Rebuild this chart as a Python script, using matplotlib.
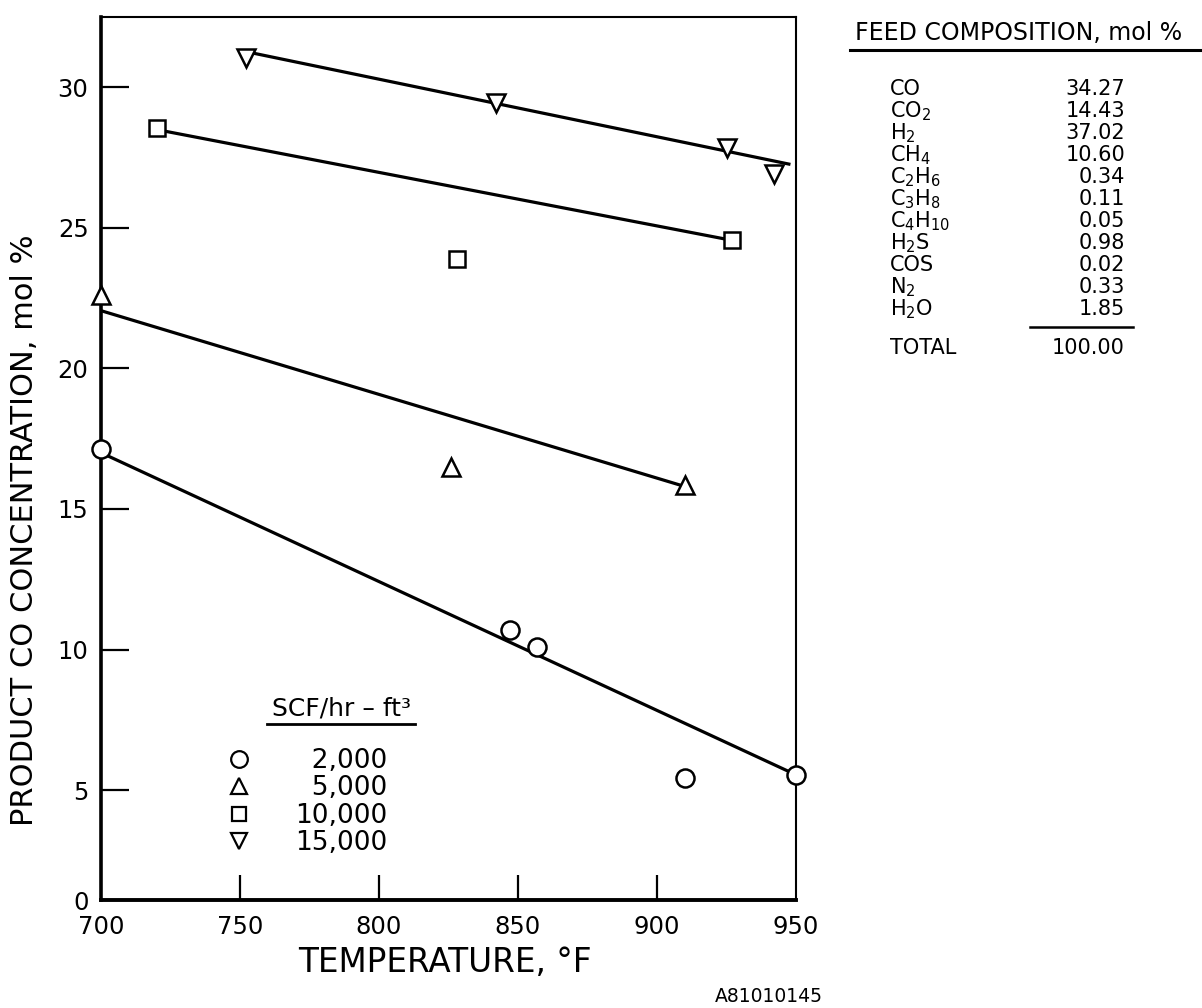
import numpy as np
import matplotlib.pyplot as plt
from matplotlib.lines import Line2D

plt.rcParams["font.family"] = ["DejaVu Sans"]
plt.rcParams["mathtext.fontset"] = "dejavusans"

# ── data ────────────────────────────────────────────────────────────────
# space velocity 2,000 SCF/hr-ft3
temp_2000 = [700, 847, 857, 910, 950]
co_2000 = [17.15, 10.7, 10.1, 5.45, 5.55]
fit_2000_t = [700, 950]
fit_2000_co = [17.0, 5.55]

# 5,000
temp_5000 = [700, 826, 910]
co_5000 = [22.6, 16.5, 15.85]
fit_5000_t = [700, 910]
fit_5000_co = [22.05, 15.8]

# 10,000
temp_10000 = [720, 828, 927]
co_10000 = [28.55, 23.9, 24.55]
fit_10000_t = [722, 927]
fit_10000_co = [28.45, 24.55]

# 15,000
temp_15000 = [752, 842, 925, 942]
co_15000 = [31.05, 29.45, 27.85, 26.9]
fit_15000_t = [755, 948]
fit_15000_co = [31.2, 27.25]

legend_labels = ["\u20072,000", "\u20075,000", "10,000", "15,000"]

x_ticks = [700, 750, 800, 850, 900, 950]
y_ticks = [0, 5, 10, 15, 20, 25, 30]

feed_species = ["CO", "CO$_2$", "H$_2$", "CH$_4$", "C$_2$H$_6$", "C$_3$H$_8$",
                "C$_4$H$_{10}$", "H$_2$S", "COS", "N$_2$", "H$_2$O"]
feed_mol = ["34.27", "14.43", "37.02", "10.60", "0.34", "0.11",
            "0.05", "0.98", "0.02", "0.33", "1.85"]
feed_total = "100.00"


# the drawn axis squeezes the 0-5 interval
def _fwd(v):
    v = np.asarray(v, dtype=float)
    return np.where(v < 5, v * 0.78, v - 5 + 3.9)


def _inv(t):
    t = np.asarray(t, dtype=float)
    return np.where(t < 3.9, t / 0.78, t + 5 - 3.9)


W, H = 1202, 1008
fig = plt.figure(figsize=(W / 100, H / 100), dpi=100)
fig.patch.set_facecolor("white")


def fx(px):
    return px / W


def fy(py):
    return 1 - py / H


ax = fig.add_axes([fx(101), fy(900), fx(796) - fx(101), fy(17) - fy(900)])
ax.set_yscale("function", functions=(_fwd, _inv))
ax.set_xlim(700, 950)
ax.set_ylim(0, 32.49)

line_kw = dict(color="black", lw=2.3, solid_capstyle="butt", zorder=2)
mk_kw = dict(ls="none", mfc="white", mec="black", mew=1.8, clip_on=False, zorder=3)

ax.plot(fit_2000_t, fit_2000_co, **line_kw)
ax.plot(fit_5000_t, fit_5000_co, **line_kw)
ax.plot(fit_10000_t, fit_10000_co, **line_kw)
ax.plot(fit_15000_t, fit_15000_co, **line_kw)

ax.plot(temp_2000, co_2000, marker="o", ms=13, **mk_kw)
ax.plot(temp_5000, co_5000, marker="^", ms=13, **mk_kw)
ax.plot(temp_10000, co_10000, marker="s", ms=11, **mk_kw)
ax.plot(temp_15000, co_15000, marker="v", ms=13, **mk_kw)

# spines: heavy left/bottom, light top/right
ax.spines["left"].set_linewidth(2.6)
ax.spines["bottom"].set_linewidth(2.8)
ax.spines["top"].set_linewidth(1.5)
ax.spines["right"].set_linewidth(1.5)

ax.set_xticks(x_ticks, [str(t) for t in x_ticks])
ax.set_yticks(y_ticks, [str(t) for t in y_ticks])
ax.minorticks_off()
ax.tick_params(axis="both", direction="in", top=False, right=False, colors="black")
ax.tick_params(axis="y", length=20, width=1.6, pad=9, labelsize=17.5)
ax.tick_params(axis="x", length=18, width=1.6, pad=11, labelsize=17.5)
for tk in (ax.xaxis.get_major_ticks()[0], ax.xaxis.get_major_ticks()[-1],
           ax.yaxis.get_major_ticks()[0]):
    tk.tick1line.set_visible(False)

fig.text(fx(445), fy(962), "TEMPERATURE, °F", ha="center", va="center", fontsize=23.5)
fig.text(fx(25), fy(530), "PRODUCT CO CONCENTRATION, mol %", rotation=90,
         ha="center", va="center", fontsize=22)
fig.text(fx(823), fy(997), "A81010145", ha="right", va="center", fontsize=13.5)

# legend
handles = [Line2D([], [], ls="none", marker=m, ms=s, mfc="white", mec="black", mew=1.6)
           for m, s in (("o", 12), ("^", 12), ("s", 10), ("v", 12))]
ax.legend(handles, legend_labels, loc="upper left", bbox_to_anchor=(0.18, 0.172),
          frameon=False, fontsize=19, handlelength=1.0, handletextpad=1.6,
          labelspacing=0.05, borderpad=0, borderaxespad=0)
fig.text(fx(341), fy(709), "SCF/hr – ft³", ha="center", va="center", fontsize=18)
fig.add_artist(Line2D([fx(267), fx(415)], [fy(724), fy(724)], color="black", lw=2))

# feed composition table (positions are baselines, px from top)
fig.text(fx(855), fy(33), "FEED COMPOSITION, mol %", ha="left", va="center", fontsize=17)
fig.add_artist(Line2D([fx(850), fx(1200)], [fy(50), fy(50)], color="black", lw=2.2))
row_y0, row_dy = 95, 22
for i, (sp, val) in enumerate(zip(feed_species, feed_mol)):
    y = row_y0 + i * row_dy
    fig.text(fx(890), fy(y), sp, ha="left", va="baseline", fontsize=15)
    fig.text(fx(1125), fy(y), val, ha="right", va="baseline", fontsize=15)
y_line = row_y0 + 10 * row_dy + 12
fig.add_artist(Line2D([fx(1030), fx(1133)], [fy(y_line), fy(y_line)], color="black", lw=1.8))
y_tot = y_line + 27
fig.text(fx(890), fy(y_tot), "TOTAL", ha="left", va="baseline", fontsize=15)
fig.text(fx(1125), fy(y_tot), feed_total, ha="right", va="baseline", fontsize=15)

fig.savefig("out.png", dpi=100, facecolor="white")
